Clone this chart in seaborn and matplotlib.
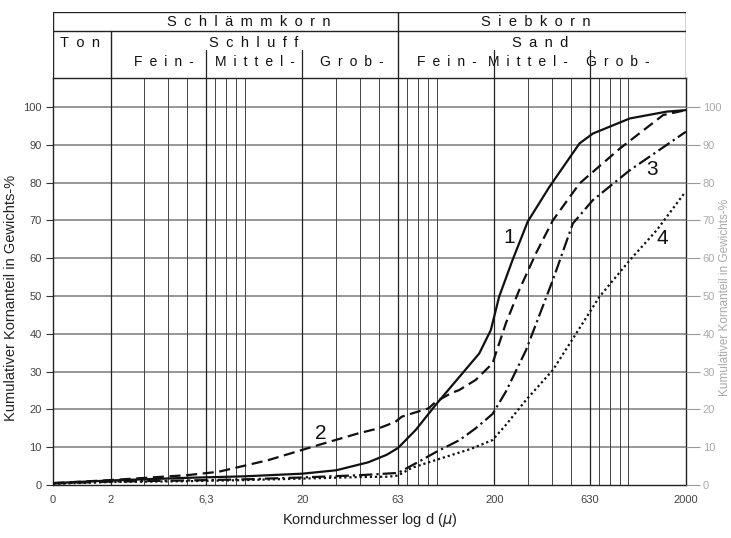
import pandas as pd
import matplotlib.pyplot as plt
import seaborn as sns

# Kornverteilungskurven (Korndurchmesser in µm, kumulativer Anteil in %)
d1 = [1, 2, 5, 10, 20, 30, 44, 55, 63, 78, 99, 119, 167, 192, 212, 249, 299, 388, 557, 654, 1019, 1585, 2000]
p1 = [0.5, 1.2, 1.9, 2.3, 3.0, 3.9, 6.0, 8.0, 9.8, 14.6, 21.2, 26.0, 34.8, 41.0, 49.8, 59.5, 69.7, 78.9, 90.4, 93.0, 97.0, 98.8, 99.2]

d2 = [1, 2, 5, 7.3, 13.3, 24.3, 39.3, 50, 61, 66, 91, 99, 119, 131, 160, 196, 230, 270, 330, 404, 557, 902, 1520, 2000]
p2 = [0.5, 1.3, 2.6, 3.5, 6.6, 10.6, 13.7, 15.0, 16.7, 18.1, 20.3, 22.0, 24.3, 25.1, 27.8, 32.2, 42.8, 51.6, 61.3, 70.0, 79.8, 89.0, 97.9, 99.2]

d3 = [1, 2, 5, 10, 20, 40, 63, 81, 100, 132, 160, 196, 230, 293, 404, 514, 654, 1019, 2000]
p3 = [0.4, 0.9, 1.2, 1.5, 2.0, 2.6, 3.2, 6.2, 8.8, 11.9, 15.0, 18.8, 24.7, 35.7, 54.2, 69.2, 75.4, 83.3, 93.5]

d4 = [1, 2, 5, 10, 20, 40, 56, 63, 74, 99, 150, 196, 230, 293, 404, 535, 707, 1019, 1411, 1960]
p4 = [0.3, 0.8, 1.0, 1.3, 1.7, 2.1, 2.2, 2.5, 4.5, 6.6, 9.5, 11.9, 15.9, 22.5, 30.4, 40.1, 49.8, 59.5, 67.5, 77.2]

curve_names = ['1', '2', '3', '4']
label_d = [240, 25, 1330, 1500]
label_p = [65.6, 13.7, 83.4, 65.3]

xtick_pos = [1, 2, 6.3, 20, 63, 200, 630, 2000]
xtick_lab = ['0', '2', '6,3', '20', '63', '200', '630', '2000']
grid_x = [2, 3, 4, 5, 6.3, 7, 8, 9, 10, 20, 30, 40, 50, 63, 70, 80, 90, 100,
          200, 300, 400, 500, 630, 700, 800, 900, 1000, 2000]
major_x = [2, 6.3, 20, 63, 200, 630]
ytick_pos = list(range(0, 101, 10))

sns.set_style('white')
plt.rcParams['font.family'] = ['Liberation Sans', 'DejaVu Sans']

W, H = 731, 538
fig = plt.figure(figsize=(W / 100, H / 100), dpi=100)
ax = fig.add_axes([53 / W, 1 - 485 / H, 633 / W, 407 / H])
ax.set_xscale('log')

# Gitter
for y in ytick_pos[1:]:
    ax.axhline(y, color='#7a7a7a', lw=1.1, zorder=1)
for x in grid_x:
    if x in major_x:
        ax.axvline(x, color='#222222', lw=0.9, zorder=1)
    else:
        ax.axvline(x, color='#444444', lw=0.7, zorder=1)

styles = ['-', (0, (5, 2.5)), (0, (6, 1.8, 1, 1.8)), (0, (1, 1.3))]
for d, p, ls in zip([d1, d2, d3, d4], [p1, p2, p3, p4], styles):
    df = pd.DataFrame({'d': d, 'p': p})
    sns.lineplot(data=df, x='d', y='p', ax=ax, color='#111111', lw=1.6,
                 linestyle=ls, zorder=3)

for name, x, y in zip(curve_names, label_d, label_p):
    ax.text(x, y, name, fontsize=15, ha='center', va='center', color='#111111')

ax.set_xlim(1, 2000)
ax.set_ylim(0, 107.7)
ax.set_xticks(xtick_pos)
ax.set_xticklabels(xtick_lab)
ax.minorticks_off()
ax.set_yticks(ytick_pos)
ax.tick_params(axis='both', direction='out', length=5, width=0.8, color='#333333',
               labelsize=8, labelcolor='#444444', pad=3)
ax.tick_params(axis='x', length=4)
for s in ax.spines.values():
    s.set_color('#222222')
    s.set_linewidth(1.0)
ax.set_xlabel('')
ax.set_ylabel('Kumulativer Kornanteil in Gewichts-%', fontsize=10.5, color='#222222')
ax.yaxis.set_label_coords(-0.055, 0.46)
ax.text(0.5, -0.086, 'Korndurchmesser log d ($\\mu$)', transform=ax.transAxes,
        ha='center', va='center', fontsize=10.5, color='#222222')

# rechte Achse, blass
ax2 = ax.twinx()
ax2.set_ylim(0, 107.7)
ax2.set_yticks(ytick_pos)
ax2.tick_params(axis='y', direction='out', length=10, width=0.8, color='#999999',
                labelsize=8, labelcolor='#aaaaaa', pad=2)
for s in ax2.spines.values():
    s.set_visible(False)
ax2.set_ylabel('Kumulativer Kornanteil in Gewichts-%', fontsize=8.5, color='#aaaaaa')
ax2.yaxis.set_label_coords(1.052, 0.46)

# Kopfzeile mit Kornfraktionen
hx = fig.add_axes([53 / W, 1 - 78 / H, 633 / W, 66 / H])
hx.set_xscale('log')
hx.set_xlim(1, 2000)
hx.set_ylim(0, 66)
hx.axis('off')
lc = '#222222'
hx.plot([1, 2000], [66, 66], color=lc, lw=1.0)
hx.plot([1, 2000], [47, 47], color=lc, lw=1.0)
hx.plot([1, 1], [0, 66], color=lc, lw=1.0)
hx.plot([2000, 2000], [0, 66], color=lc, lw=1.0)
hx.plot([63, 63], [0, 66], color=lc, lw=1.0)
hx.plot([2, 2], [0, 47], color=lc, lw=1.0)
for x in [6.3, 20, 200, 630]:
    hx.plot([x, x], [0, 28], color=lc, lw=0.9)

sp = '\u2002'
top_labels = ['Schlämmkorn', 'Siebkorn']
top_x = [10.5, 328]
mid_labels = ['Ton', 'Schluff', 'Sand']
mid_x = [1.39, 11.1, 348]
low_labels = ['Fein-', 'Mittel-', 'Grob-', 'Fein-', 'Mittel-', 'Grob-']
low_x = [3.79, 11.35, 36.1, 113.5, 300, 880]
for t, x in zip(top_labels, top_x):
    hx.text(x, 56.5, sp.join(t), ha='center', va='center', fontsize=10.5, color='#111111')
for t, x in zip(mid_labels, mid_x):
    hx.text(x, 35, sp.join(t), ha='center', va='center', fontsize=10.5, color='#111111')
for t, x in zip(low_labels, low_x):
    hx.text(x, 16, sp.join(t), ha='center', va='center', fontsize=10, color='#111111')

fig.savefig('out.png', dpi=100)
